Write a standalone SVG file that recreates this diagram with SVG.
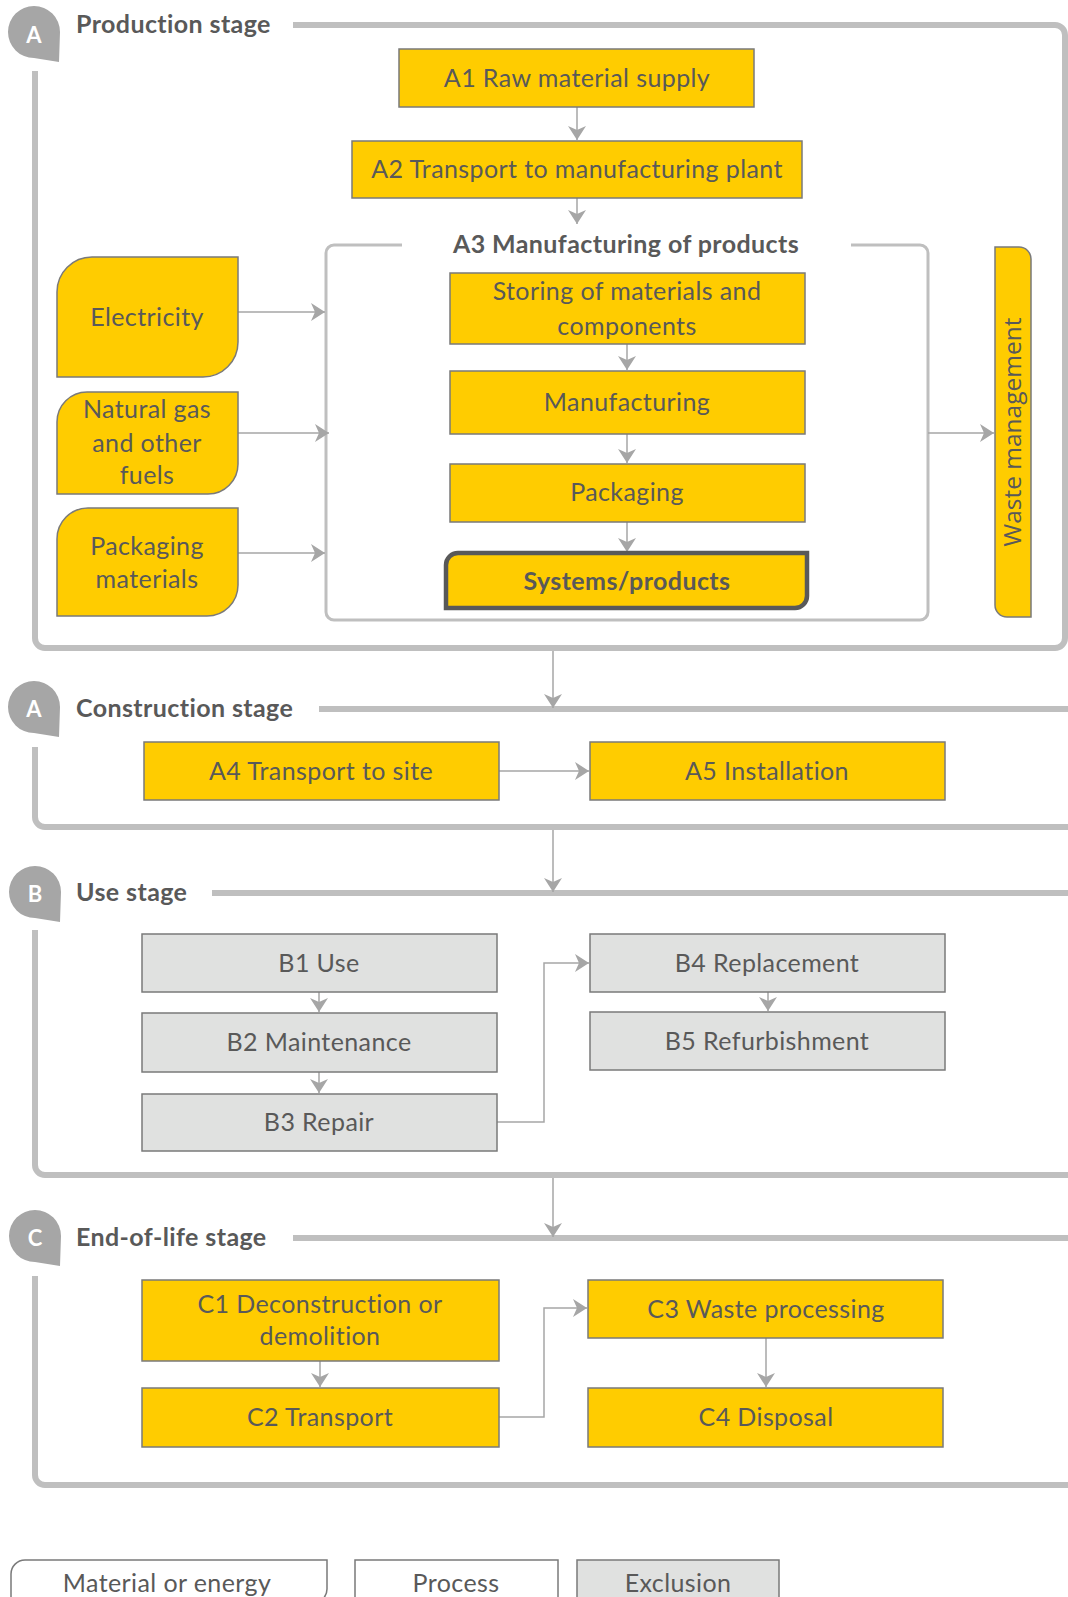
<svg xmlns="http://www.w3.org/2000/svg" width="1068" height="1597" viewBox="0 0 1068 1597">
<style>
.frame{fill:none;stroke:#bfbfbf;stroke-width:6}
.inner{fill:none;stroke:#bfbfbf;stroke-width:3}
.yel{fill:#ffcc00;stroke:#7a7a7a;stroke-width:1.5}
.gry{fill:#e0e1e0;stroke:#7a7a7a;stroke-width:1.5}
.wht{fill:#ffffff;stroke:#7a7a7a;stroke-width:1.5}
.t{font-family:Lato,"Liberation Sans",sans-serif;font-size:25px;letter-spacing:0.4px;fill:#595959;text-anchor:middle}
.tb{font-family:Lato,"Liberation Sans",sans-serif;font-size:25px;letter-spacing:0.4px;font-weight:bold;fill:#595959}
.badge{fill:#a6a6a6}
.bl{font-family:Lato,"Liberation Sans",sans-serif;font-size:22px;font-weight:bold;fill:#ffffff;text-anchor:middle}
.conn path{fill:none;stroke:#a6a6a6;stroke-width:1.5;marker-end:url(#arr)}
</style>
<defs>
<marker id="arr" markerUnits="userSpaceOnUse" markerWidth="16" markerHeight="20" refX="14" refY="10" orient="auto">
<path d="M0,1 L14,10 L0,19 L4,10 Z" fill="#a6a6a6"/>
</marker>
<path id="drop" d="M26,0 A26,26 0 0 1 52,26 L51,56 L26,52 A26,26 0 0 1 26,0 Z"/>
</defs>

<g id="frames">
<path class="frame" d="M293,25 H1055 A10,10 0 0 1 1065,35 V638 A10,10 0 0 1 1055,648 H45 A10,10 0 0 1 35,638 V71"/>
<path class="frame" d="M319,709 H1075"/>
<path class="frame" d="M35,747 V817 A10,10 0 0 0 45,827 H1075"/>
<path class="frame" d="M212,893 H1075"/>
<path class="frame" d="M35,930 V1165 A10,10 0 0 0 45,1175 H1075"/>
<path class="frame" d="M293,1238 H1075"/>
<path class="frame" d="M35,1276 V1475 A10,10 0 0 0 45,1485 H1075"/>
<path class="inner" d="M402,245 H334 A8,8 0 0 0 326,253 V612 A8,8 0 0 0 334,620 H920 A8,8 0 0 0 928,612 V253 A8,8 0 0 0 920,245 H851"/>
</g>

<g id="stage-production">
<use href="#drop" class="badge" x="8" y="6"/>
<text class="bl" x="34" y="43">A</text>
<text class="tb" x="76" y="33">Production stage</text>
</g>
<g id="stage-construction">
<use href="#drop" class="badge" x="8" y="681"/>
<text class="bl" x="34" y="717">A</text>
<text class="tb" x="76" y="717">Construction stage</text>
</g>
<g id="stage-use">
<use href="#drop" class="badge" x="9" y="866"/>
<text class="bl" x="35" y="902">B</text>
<text class="tb" x="76" y="901">Use stage</text>
</g>
<g id="stage-eol">
<use href="#drop" class="badge" x="9" y="1210"/>
<text class="bl" x="35" y="1246">C</text>
<text class="tb" x="76" y="1246">End-of-life stage</text>
</g>

<g id="conn" class="conn">
<path d="M577,107 V140"/>
<path d="M577,198 V224"/>
<path d="M627,344 V370"/>
<path d="M627,434 V463"/>
<path d="M627,522 V552"/>
<path d="M238,312 H325"/>
<path d="M238,433 H329"/>
<path d="M238,553 H325"/>
<path d="M928,433 H994"/>
<path d="M553,651 V708"/>
<path d="M499,771 H589"/>
<path d="M553,830 V892"/>
<path d="M319,992 V1012"/>
<path d="M319,1072 V1093"/>
<path d="M497,1122 H544 V963 H589"/>
<path d="M768,992 V1011"/>
<path d="M553,1178 V1237"/>
<path d="M320,1361 V1387"/>
<path d="M499,1417 H544 V1308 H587"/>
<path d="M766,1338 V1387"/>
</g>

<g id="a1"><rect class="yel" x="399" y="49" width="355" height="58"/><text class="t" x="577" y="87">A1 Raw material supply</text></g>
<g id="a2"><rect class="yel" x="352" y="141" width="450" height="57"/><text class="t" x="577" y="178">A2 Transport to manufacturing plant</text></g>
<g id="a3-title"><text class="tb" x="626" y="253" text-anchor="middle">A3 Manufacturing of products</text></g>
<g id="storing"><rect class="yel" x="450" y="273" width="355" height="71"/><text class="t" x="627" y="300">Storing of materials and</text><text class="t" x="627" y="335">components</text></g>
<g id="manufacturing"><rect class="yel" x="450" y="371" width="355" height="63"/><text class="t" x="627" y="411">Manufacturing</text></g>
<g id="packaging"><rect class="yel" x="450" y="464" width="355" height="58"/><text class="t" x="627" y="501">Packaging</text></g>
<g id="systems"><path d="M458,553 H807 V596 A12,12 0 0 1 795,608 H446 V565 A12,12 0 0 1 458,553 Z" fill="#ffcc00" stroke="#595959" stroke-width="4.5"/><text class="tb" x="627" y="590" text-anchor="middle">Systems/products</text></g>

<g id="electricity"><path class="yel" d="M92,257 H238 V342 A35,35 0 0 1 203,377 H57 V292 A35,35 0 0 1 92,257 Z"/><text class="t" x="147" y="326">Electricity</text></g>
<g id="natural-gas"><path class="yel" d="M87,392 H238 V464 A30,30 0 0 1 208,494 H57 V422 A30,30 0 0 1 87,392 Z"/><text class="t" x="147" y="418">Natural gas</text><text class="t" x="147" y="452">and other</text><text class="t" x="147" y="484">fuels</text></g>
<g id="packaging-materials"><path class="yel" d="M88,508 H238 V585 A31,31 0 0 1 207,616 H57 V539 A31,31 0 0 1 88,508 Z"/><text class="t" x="147" y="555">Packaging</text><text class="t" x="147" y="588">materials</text></g>

<g id="waste"><path class="yel" d="M995,247 H1019 A12,12 0 0 1 1031,259 V617 H1007 A12,12 0 0 1 995,605 Z"/><text x="0" y="0" transform="translate(1021,432) rotate(-90)" font-family="'Open Sans',sans-serif" font-size="24.5" fill="#595959" text-anchor="middle">Waste management</text></g>

<g id="a4"><rect class="yel" x="144" y="742" width="355" height="58"/><text class="t" x="321" y="780">A4 Transport to site</text></g>
<g id="a5"><rect class="yel" x="590" y="742" width="355" height="58"/><text class="t" x="767" y="780">A5 Installation</text></g>

<g id="b1"><rect class="gry" x="142" y="934" width="355" height="58"/><text class="t" x="319" y="972">B1 Use</text></g>
<g id="b2"><rect class="gry" x="142" y="1013" width="355" height="59"/><text class="t" x="319" y="1051">B2 Maintenance</text></g>
<g id="b3"><rect class="gry" x="142" y="1094" width="355" height="57"/><text class="t" x="319" y="1131">B3 Repair</text></g>
<g id="b4"><rect class="gry" x="590" y="934" width="355" height="58"/><text class="t" x="767" y="972">B4 Replacement</text></g>
<g id="b5"><rect class="gry" x="590" y="1012" width="355" height="58"/><text class="t" x="767" y="1050">B5 Refurbishment</text></g>

<g id="c1"><rect class="yel" x="142" y="1280" width="357" height="81"/><text class="t" x="320" y="1313">C1 Deconstruction or</text><text class="t" x="320" y="1345">demolition</text></g>
<g id="c2"><rect class="yel" x="142" y="1388" width="357" height="59"/><text class="t" x="320" y="1426">C2 Transport</text></g>
<g id="c3"><rect class="yel" x="588" y="1280" width="355" height="58"/><text class="t" x="766" y="1318">C3 Waste processing</text></g>
<g id="c4"><rect class="yel" x="588" y="1388" width="355" height="59"/><text class="t" x="766" y="1426">C4 Disposal</text></g>

<g id="legend">
<g id="legend-material"><path class="wht" d="M25,1560 H327 V1589 A14,14 0 0 1 313,1603 H11 V1574 A14,14 0 0 1 25,1560 Z"/><text class="t" x="167" y="1592">Material or energy</text></g>
<g id="legend-process"><rect class="wht" x="355" y="1560" width="203" height="45"/><text class="t" x="456" y="1592">Process</text></g>
<g id="legend-exclusion"><rect class="gry" x="577" y="1560" width="202" height="45"/><text class="t" x="678" y="1592">Exclusion</text></g>
</g>
</svg>
